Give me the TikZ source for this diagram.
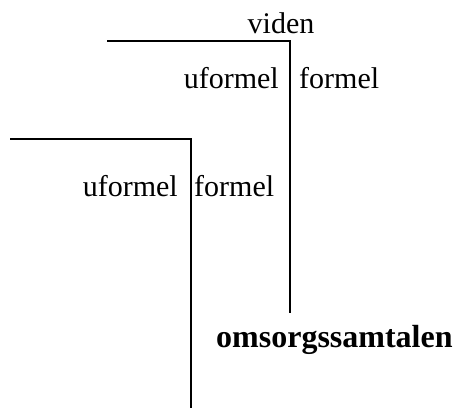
\documentclass[tikz,border=0pt]{standalone}
\usepackage{fontspec}
\setmainfont{Liberation Serif}
\begin{document}
\begin{tikzpicture}[x=1pt,y=-1pt,
  lbl/.style={inner sep=0pt,font=\fontsize{30}{36}\selectfont},
  rule/.style={line width=2pt}]
\useasboundingbox (0,0) rectangle (454,408);
% top bracket
\coordinate (a1) at (107,41);
\coordinate (a2) at (290,41);
\coordinate (a3) at (290,313);
\draw[rule] (a1) -- (a2) -- (a3);
% lower bracket
\coordinate (b1) at (10,139);
\coordinate (b2) at (191,139);
\coordinate (b3) at (191,408);
\draw[rule] (b1) -- (b2) -- (b3);
% labels
\node[lbl,anchor=base] (viden) at (281,33) {viden};
\node[lbl,anchor=base east] (uf1) at (279,88) {uformel};
\node[lbl,anchor=base west] (f1) at (299,88) {formel};
\node[lbl,anchor=base east] (uf2) at (178,196) {uformel};
\node[lbl,anchor=base west] (f2) at (194,196) {formel};
\node[lbl,anchor=base west,font=\fontsize{32}{38}\selectfont\bfseries] (om) at (216,347) {omsorgssamtalen};
\end{tikzpicture}
\end{document}
